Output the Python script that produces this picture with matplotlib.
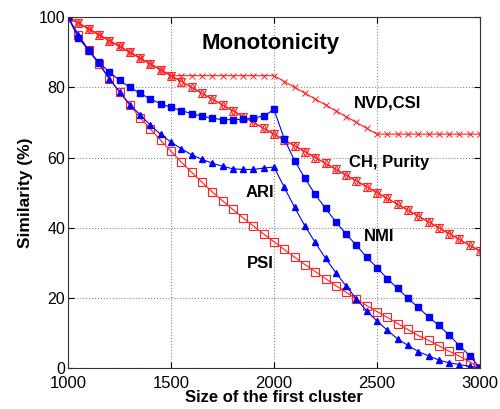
import matplotlib
matplotlib.use('Agg')
import matplotlib.pyplot as plt

plt.rcParams['font.family'] = ['Liberation Sans', 'DejaVu Sans']

# cluster size, one sample every 50
sizes = list(range(1000, 3001, 50))

nvd_csi = [100, 98.33, 96.67, 95, 93.33, 91.67, 90, 88.33, 86.67, 85, 83.33,
           83.33, 83.33, 83.33, 83.33, 83.33, 83.33, 83.33, 83.33, 83.33, 83.33,
           81.67, 80, 78.33, 76.67, 75, 73.33, 71.67, 70, 68.33, 66.67,
           66.67, 66.67, 66.67, 66.67, 66.67, 66.67, 66.67, 66.67, 66.67, 66.67]

ch_purity = [100, 98.33, 96.67, 95, 93.33, 91.67, 90, 88.33, 86.67, 85, 83.33,
             81.67, 80, 78.33, 76.67, 75, 73.33, 71.67, 70, 68.33, 66.67,
             65, 63.33, 61.67, 60, 58.33, 56.67, 55, 53.33, 51.67, 50,
             48.33, 46.67, 45, 43.33, 41.67, 40, 38.33, 36.67, 35, 33.33]

nmi = [100, 94.1, 90.6, 87.1, 84.4, 82.0, 80.0, 78.3, 76.7, 75.3, 74.3,
       73.4, 72.5, 71.8, 71.2, 70.8, 70.8, 70.9, 71.3, 71.8, 73.7,
       65.3, 59.1, 54.1, 49.5, 45.5, 41.7, 38.2, 35.0, 31.6, 28.6,
       25.5, 22.7, 19.9, 17.3, 14.6, 12.2, 9.4, 6.4, 3.5, 0]

ari = [100, 95.0, 90.5, 86.9, 82.5, 78.8, 75.1, 72.2, 69.2, 66.6, 64.4,
       62.5, 60.8, 59.5, 58.4, 57.5, 56.8, 56.6, 56.6, 57.0, 57.3,
       51.5, 45.8, 40.5, 35.8, 31.3, 27.2, 23.4, 19.7, 16.3, 13.4,
       10.8, 8.3, 6.5, 4.7, 3.5, 2.3, 1.5, 1.0, 0.5, 0]

psi = [100, 94.9, 90.6, 86.6, 82.4, 78.6, 74.9, 71.4, 68.1, 64.9, 61.8,
       58.7, 55.8, 53.0, 50.2, 47.7, 45.2, 42.8, 40.5, 38.2, 36.0,
       33.8, 31.6, 29.5, 27.5, 25.5, 23.5, 21.6, 19.7, 17.8, 16.1,
       14.5, 12.7, 11.0, 9.3, 7.9, 6.4, 4.8, 3.4, 1.8, 0]

red = '#ff2020'
blue = '#0000ff'

fig = plt.figure(figsize=(5, 4.09), dpi=100)
ax = fig.add_axes([0.136, 0.100, 0.824, 0.858])

ax.plot(sizes, nvd_csi, color=red, lw=0.8, marker='x', ms=4, mew=0.7)
ax.plot(sizes, ch_purity, color=red, lw=0.8, marker='^', ms=5.5, mfc='none', mew=0.8)
ax.plot(sizes, ch_purity, color=red, lw=0.8, marker='v', ms=5.5, mfc='none', mew=0.8)
ax.plot(sizes, psi, color=red, lw=0.8, marker='s', ms=6, mfc='none', mew=0.8)
ax.plot(sizes, nmi, color=blue, lw=0.8, marker='s', ms=5, mec=blue, mfc=blue)
ax.plot(sizes, ari, color=blue, lw=0.8, marker='^', ms=5, mec=blue, mfc=blue)

ax.set_xlim(1000, 3000)
ax.set_ylim(0, 100)
ax.set_xticks([1000, 1500, 2000, 2500, 3000])
ax.set_yticks([0, 20, 40, 60, 80, 100])
ax.tick_params(direction='in', top=True, right=True, length=4)
ax.tick_params(axis='x', labelsize=12, pad=6)
ax.tick_params(axis='y', labelsize=11.5, pad=2)
ax.grid(True, linestyle=':', color='#888888', lw=0.8)
for s in ax.spines.values():
    s.set_linewidth(0.8)
    s.set_color('#333333')

ax.set_xlabel('Size of the first cluster', fontsize=12, fontweight='bold', labelpad=-1)
ax.set_ylabel('Similarity (%)', fontsize=12.5, fontweight='bold', labelpad=4)

ax.text(1985, 92.5, 'Monotonicity', fontsize=16, fontweight='bold', ha='center', va='center')
ax.text(2549, 75.6, 'NVD,CSI', fontsize=12, fontweight='bold', ha='center', va='center')
ax.text(2561, 58.5, 'CH, Purity', fontsize=12, fontweight='bold', ha='center', va='center')
ax.text(1932, 50.0, 'ARI', fontsize=12, fontweight='bold', ha='center', va='center')
ax.text(2512, 37.5, 'NMI', fontsize=12, fontweight='bold', ha='center', va='center')
ax.text(1932, 29.9, 'PSI', fontsize=12, fontweight='bold', ha='center', va='center')

fig.savefig('out.png', dpi=100)
